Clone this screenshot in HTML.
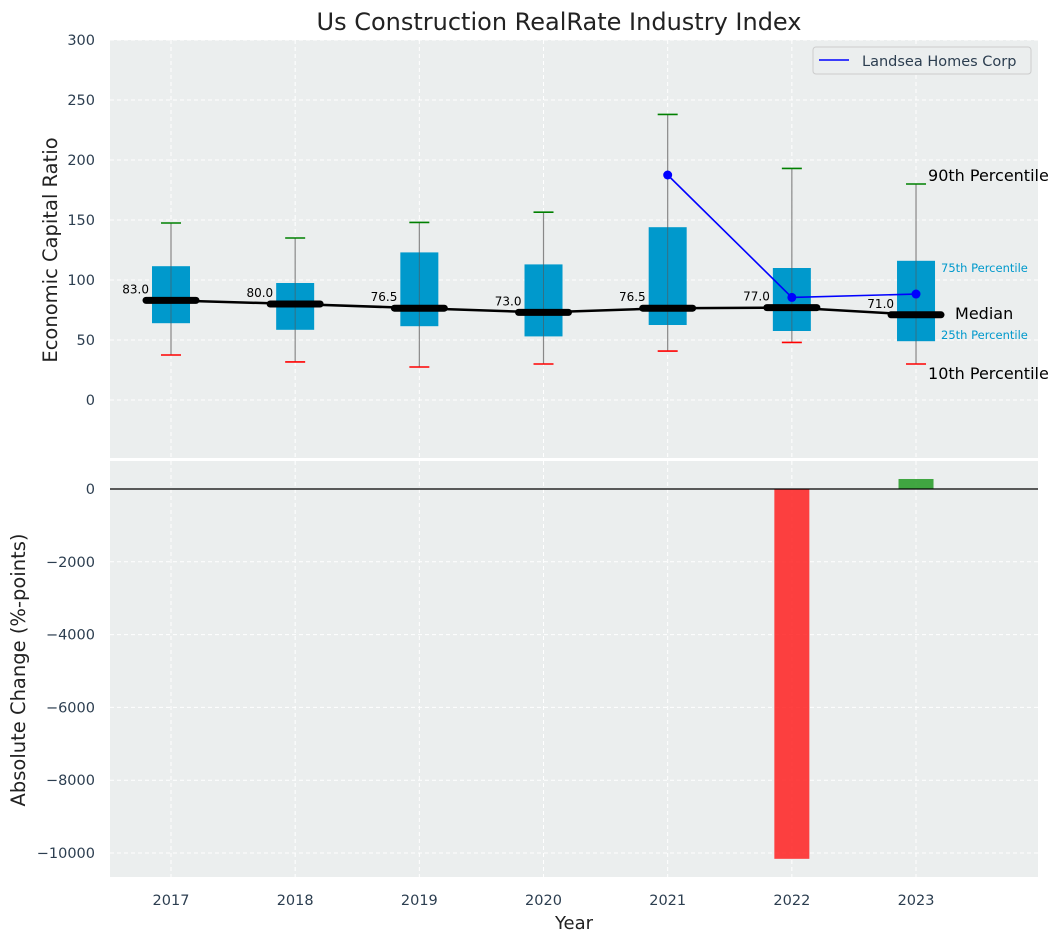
<!DOCTYPE html>
<html><head><meta charset="utf-8"><style>
body{margin:0;background:#fff;font-family:"DejaVu Sans","Liberation Sans",sans-serif;}
svg text{font-family:"DejaVu Sans","Liberation Sans",sans-serif;}
</style></head><body>
<svg id="c" width="1063" height="942" xmlns="http://www.w3.org/2000/svg"></svg>
<script>
const years=[2017,2018,2019,2020,2021,2022,2023];
const p10=[37.5,31.7,27.5,30,40.8,48,30];
const p25=[64,58.5,61.5,53,62.5,57.5,49];
const medians=[83.0,80.0,76.5,73.0,76.5,77.0,71.0];
const p75=[111.5,97.5,123,113,144,110,116];
const p90=[147.5,135,148,156.5,238,193,180];
const companyYears=[2021,2022,2023];
const companyVals=[187.5,85.5,88.3];
const changeYears=[2022,2023];
const changeVals=[-10160,275];
const topTicks=[0,50,100,150,200,250,300];
const botTicks=[0,-2000,-4000,-6000,-8000,-10000];

const NS="http://www.w3.org/2000/svg";
const svg=document.getElementById('c');
function el(t,a,txt){const e=document.createElementNS(NS,t);for(const k in a)e.setAttribute(k,a[k]);if(txt!==undefined)e.textContent=txt;svg.appendChild(e);return e;}
const L=110,R=1038;
const x=v=>171+(v-2017)*124.17;
const yT=v=>400-v*1.2;
const yB=v=>489-v*0.0364;
const TT=40,TB=458,BT=461,BB=877;

let r=el('rect',{x:L,y:TT,width:R-L,height:TB-TT,fill:'#ebeeee'});

r=el('rect',{x:L,y:BT,width:R-L,height:BB-BT,fill:'#ebeeee'});


years.forEach(yv=>{
  el('line',{x1:x(yv),x2:x(yv),y1:TT,y2:TB,stroke:'#fff','stroke-dasharray':'4,3'});
  el('line',{x1:x(yv),x2:x(yv),y1:BT,y2:BB,stroke:'#fff','stroke-dasharray':'4,3'});
  const t=el('text',{x:x(yv),y:905,'text-anchor':'middle','font-size':14.5,fill:'#2c3e50'},yv);
  
});
topTicks.forEach(v=>{
  el('line',{x1:L,x2:R,y1:yT(v),y2:yT(v),stroke:'#fff','stroke-dasharray':'4,3'});
  const t=el('text',{x:95,y:yT(v)+5,'text-anchor':'end','font-size':14.5,fill:'#2c3e50'},v);
  
});
botTicks.forEach(v=>{
  el('line',{x1:L,x2:R,y1:yB(v),y2:yB(v),stroke:'#fff','stroke-dasharray':'4,3'});
  const t=el('text',{x:95,y:yB(v)+5,'text-anchor':'end','font-size':14.5,fill:'#2c3e50'},v<0?'\u2212'+(-v):v);
  
});

years.forEach((yv,i)=>{
  const cx=x(yv);
  el('line',{x1:cx,x2:cx,y1:yT(p90[i]),y2:yT(p10[i]),stroke:'#888','stroke-width':1.2});
  const b=el('rect',{x:cx-19,y:yT(p75[i]),width:38,height:yT(p25[i])-yT(p75[i]),fill:'#0099cc'});
  
  el('line',{x1:cx,x2:cx,y1:yT(p75[i]),y2:yT(p25[i]),stroke:'#555','stroke-width':1,opacity:0.6});
  el('line',{x1:cx-10,x2:cx+10,y1:yT(p90[i]),y2:yT(p90[i]),stroke:'green','stroke-width':1.6});
  el('line',{x1:cx-10,x2:cx+10,y1:yT(p10[i]),y2:yT(p10[i]),stroke:'red','stroke-width':1.6});
});
const ml=el('polyline',{points:years.map((yv,i)=>x(yv)+','+yT(medians[i])).join(' '),fill:'none',stroke:'#000','stroke-width':2.5});

years.forEach((yv,i)=>{
  const cx=x(yv);
  const m=el('line',{x1:cx-25,x2:cx+25,y1:yT(medians[i]),y2:yT(medians[i]),stroke:'#000','stroke-width':7,'stroke-linecap':'round'});
  
  const t=el('text',{x:cx-22,y:yT(medians[i])-7,'text-anchor':'end','font-size':12,fill:'#000'},medians[i].toFixed(1));
  
});
const cl=el('polyline',{points:companyYears.map((yv,i)=>x(yv)+','+yT(companyVals[i])).join(' '),fill:'none',stroke:'blue','stroke-width':1.6});

companyYears.forEach((yv,i)=>{
  const c=el('circle',{cx:x(yv),cy:yT(companyVals[i]),r:4.5,fill:'blue'});
  
});
const li=years.length-1,lx=x(years[li]);
[['90th Percentile',p90[li],12,16,'#000',-3],['75th Percentile',p75[li],25,11.5,'#0099cc',11],['Median',medians[li],39,16,'#000',4],['25th Percentile',p25[li],25,11.5,'#0099cc',-2],['10th Percentile',p10[li],12,16,'#000',15]].forEach(a=>{
  const t=el('text',{x:lx+a[2],y:yT(a[1])+a[5],'font-size':a[3],fill:a[4]},a[0]);
  
});
const lg=el('rect',{x:813,y:47,width:218,height:27,fill:'#ebeeee',stroke:'#ccc',rx:3});

el('line',{x1:819,x2:849,y1:60,y2:60,stroke:'blue','stroke-width':1.6});
const lt=el('text',{x:862,y:66,'font-size':14.5,fill:'#2c3e50'},'Landsea Homes Corp');


changeYears.forEach((yv,i)=>{
  const v=changeVals[i];
  const b=el('rect',{x:x(yv)-17.5,y:Math.min(yB(0),yB(v)),width:35,height:Math.abs(yB(v)-yB(0)),fill:v<0?'#ff2020':'#229922',opacity:0.85});
  
});
el('line',{x1:L,x2:R,y1:yB(0),y2:yB(0),stroke:'#000','stroke-width':1.2});

let t=el('text',{x:559,y:30,'text-anchor':'middle','font-size':24,fill:'#222'},'Us Construction RealRate Industry Index');

t=el('text',{x:0,y:0,'text-anchor':'middle','font-size':19.5,fill:'#222',transform:'translate(57,250) rotate(-90)'},'Economic Capital Ratio');

t=el('text',{x:0,y:0,'text-anchor':'middle','font-size':19.5,fill:'#222',transform:'translate(25,670) rotate(-90)'},'Absolute Change (%-points)');

t=el('text',{x:574,y:929,'text-anchor':'middle','font-size':18,fill:'#222'},'Year');

</script>
</body></html>
